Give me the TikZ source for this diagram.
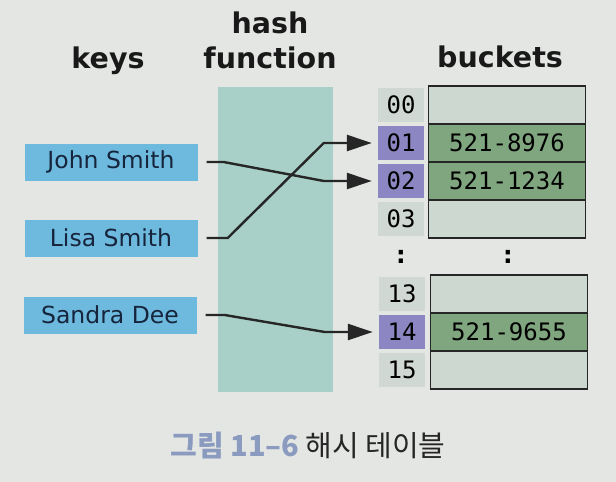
\documentclass[tikz,border=0pt]{standalone}
\usepackage{fontspec}
\setmainfont{DejaVu Sans}
\newfontfamily\monofont{DejaVu Sans Mono}
\newfontfamily\cjk{Noto Sans CJK KR}
\usetikzlibrary{arrows.meta,positioning}

\definecolor{paper}{RGB}{228,230,227}
\definecolor{keyblue}{RGB}{110,186,222}
\definecolor{keyink}{RGB}{22,36,60}
\definecolor{hashband}{RGB}{168,208,200}
\definecolor{idxgray}{RGB}{208,216,211}
\definecolor{idxpurple}{RGB}{140,134,194}
\definecolor{bucketlight}{RGB}{205,217,208}
\definecolor{bucketgreen}{RGB}{127,166,126}
\definecolor{capblue}{RGB}{139,155,192}

\begin{document}
\begin{tikzpicture}[x=1pt,y=-1pt,
    head/.style={font=\fontsize{28.5}{35}\selectfont\bfseries,align=center,text=black!90},
    keybox/.style={fill=keyblue,text=keyink,minimum width=173pt,minimum height=37pt,
      inner sep=0pt,font=\fontsize{23.5}{27}\selectfont},
    idxcell/.style={fill=idxgray,minimum width=46pt,minimum height=34pt,inner sep=0pt,
      font=\monofont\fontsize{24}{27}\selectfont},
    bucket/.style={draw=black!85,line width=1.6pt,fill=bucketlight,minimum width=157pt,
      minimum height=38pt,inner sep=0pt,font=\monofont\fontsize{24}{27}\selectfont},
    link/.style={draw=black!85,line width=2.4pt,-{Triangle[length=25pt,width=16pt]},
      shorten <=9pt,shorten >=6pt}]
  \fill[paper] (0,0) rectangle (616,482);
  \useasboundingbox (0,0) rectangle (616,482);

  % headings
  \node[head] (hkeys) at (108,61) {keys};
  \node[head] (hhash) at (270,40) {hash\\function};
  \node[head] (hbuck) at (500,57) {buckets};

  % hash function band
  \fill[hashband] (218,87) rectangle (333,392);

  % keys
  \node[keybox] (john)   at (111,162) {John Smith};
  \node[keybox] (lisa)   at (111,238) {Lisa Smith};
  \node[keybox] (sandra) at (110,315) {Sandra Dee};

  % buckets, upper group
  \foreach \n/\y/\v in {00/105/,01/143/521-8976,02/181/521-1234,03/219/} {
    \node[idxcell] (i\n) at (401,\y) {\n};
    \node[bucket]  (b\n) at (507,\y) {\v};
  }
  % buckets, lower group
  \foreach \n/\y/\v in {13/294/,14/332/521-9655,15/370/} {
    \node[idxcell] (i\n) at (402,\y) {\n};
    \node[bucket]  (b\n) at (509,\y) {\v};
  }
  \foreach \n in {01,02,14} {
    \node[idxcell,fill=idxpurple] at (i\n) {\n};
  }
  \node[bucket,fill=bucketgreen] at (b01) {521-8976};
  \node[bucket,fill=bucketgreen] at (b02) {521-1234};
  \node[bucket,fill=bucketgreen] at (b14) {521-9655};

  \node[font=\bfseries\fontsize{24}{27}\selectfont] (dl) at (401,257) {:};
  \node[font=\bfseries\fontsize{24}{27}\selectfont] (dr) at (508,257) {:};

  % links
  \draw[link] (john.east) -- ++(26,0) -- ([xshift=-54pt]i02.west) -- (i02.west);
  \draw[link] (lisa.east) -- ++(30,0) -- ([xshift=-54pt]i01.west) -- (i01.west);
  \draw[link] (sandra.east) -- ++(28,0) -- ([xshift=-54pt]i14.west) -- (i14.west);

  % caption
  \node (cap) at (308,446) {\cjk\fontsize{29}{32}\selectfont
    {\bfseries\color{capblue}그림 11–6} \color{black!85}해시 테이블};
\end{tikzpicture}
\end{document}
